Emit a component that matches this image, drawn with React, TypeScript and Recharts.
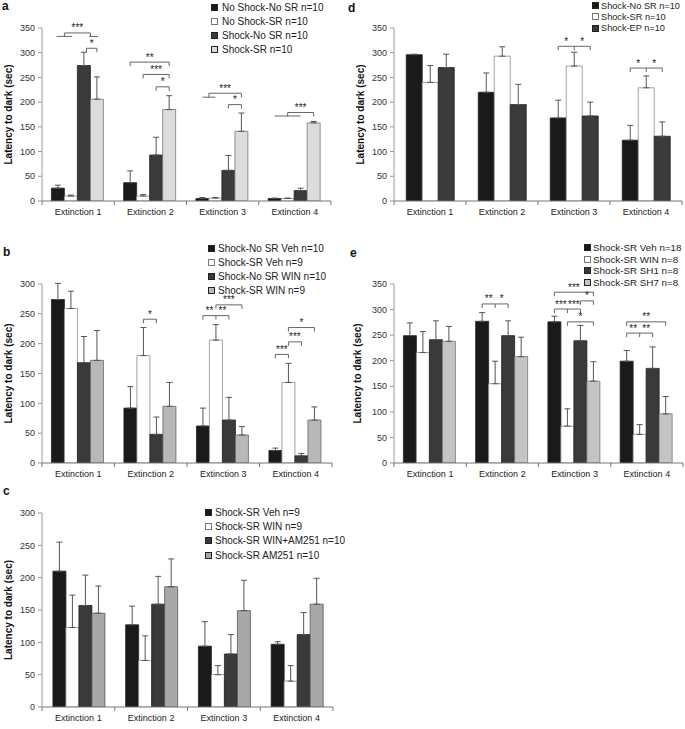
import React from 'react';
import { BarChart, Bar, XAxis, YAxis, ErrorBar, Legend, LabelList } from 'recharts';

const FONT = '"Liberation Sans", Arial, Helvetica, sans-serif';

const categories = ['Extinction 1', 'Extinction 2', 'Extinction 3', 'Extinction 4'];
const ticks350 = [0, 50, 100, 150, 200, 250, 300, 350];
const ticks300 = [0, 50, 100, 150, 200, 250, 300];

// ---- Panel a ----
const aNames = ['No Shock-No SR n=10', 'No Shock-SR n=10', 'Shock-No SR n=10', 'Shock-SR n=10'];
const aMeans = [
  [26, 37, 5, 5],
  [10, 10, 6, 5],
  [274, 93, 62, 21],
  [206, 185, 141, 158],
];
const aErrors = [
  [6, 24, 2, 1],
  [2, 3, 1, 1],
  [27, 36, 30, 5],
  [45, 28, 37, 3],
];

// ---- Panel b ----
const bNames = ['Shock-No SR Veh n=10', 'Shock-SR Veh n=9', 'Shock-No SR WIN n=10', 'Shock-SR WIN n=9'];
const bMeans = [
  [274, 92, 62, 21],
  [259, 180, 206, 135],
  [168, 48, 72, 12],
  [172, 95, 47, 72],
];
const bErrors = [
  [27, 36, 30, 4],
  [29, 47, 26, 32],
  [44, 29, 38, 4],
  [50, 40, 14, 22],
];

// ---- Panel c ----
const cNames = ['Shock-SR Veh n=9', 'Shock-SR WIN n=9', 'Shock-SR WIN+AM251 n=10', 'Shock-SR AM251 n=10'];
const cMeans = [
  [210, 127, 94, 97],
  [123, 72, 50, 40],
  [157, 159, 82, 112],
  [145, 186, 149, 159],
];
const cErrors = [
  [45, 29, 38, 4],
  [50, 38, 14, 24],
  [47, 43, 30, 34],
  [42, 43, 47, 40],
];

// ---- Panel d ----
const dNames = ['Shock-No SR n=10', 'Shock-SR n=10', 'Shock-EP n=10'];
const dMeans = [
  [296, 220, 168, 123],
  [240, 293, 273, 229],
  [270, 195, 172, 131],
];
const dErrors = [
  [1, 39, 36, 30],
  [34, 19, 28, 24],
  [27, 41, 28, 29],
];

// ---- Panel e ----
const eNames = ['Shock-SR Veh n=18', 'Shock-SR WIN n=8', 'Shock-SR SH1 n=8', 'Shock-SR SH7 n=8'];
const eMeans = [
  [249, 277, 276, 199],
  [216, 155, 72, 56],
  [241, 249, 239, 185],
  [238, 208, 160, 96],
];
const eErrors = [
  [25, 17, 11, 21],
  [41, 44, 34, 19],
  [37, 29, 30, 42],
  [29, 38, 38, 34],
];

// Significance brackets: cat index, from/to in bar units (k+0.5 = centre of bar k), y = data level
type Mark = { cat: number; from: number; to: number; y: number; labels?: string[]; mid?: number; plain?: boolean };

const aMarks: Mark[] = [
  { cat: 0, from: 0.4, to: 1.6, y: 333, plain: true },
  { cat: 0, from: 2.9, to: 3.6, y: 333, plain: true },
  { cat: 0, from: 1.0, to: 3.0, y: 340, labels: ['***'] },
  { cat: 0, from: 2.7, to: 3.5, y: 309, labels: ['*'] },
  { cat: 1, from: 0.5, to: 3.5, y: 281, labels: ['**'] },
  { cat: 1, from: 1.5, to: 3.5, y: 256, labels: ['***'] },
  { cat: 1, from: 2.5, to: 3.5, y: 231, labels: ['*'] },
  { cat: 2, from: 0.5, to: 1.5, y: 210, plain: true },
  { cat: 2, from: 1.0, to: 3.5, y: 218, labels: ['***'] },
  { cat: 2, from: 2.5, to: 3.5, y: 195, labels: ['*'] },
  { cat: 3, from: 0.5, to: 2.5, y: 172, plain: true },
  { cat: 3, from: 1.5, to: 3.5, y: 179, labels: ['***'] },
];
const bMarks: Mark[] = [
  { cat: 1, from: 1.5, to: 2.5, y: 241, labels: ['*'] },
  { cat: 2, from: 0.5, to: 2.5, mid: 1.5, y: 247, labels: ['**', '**'] },
  { cat: 2, from: 1.5, to: 3.5, y: 265, labels: ['***'] },
  { cat: 3, from: 0.5, to: 1.5, y: 182, labels: ['***'] },
  { cat: 3, from: 1.5, to: 2.5, y: 203, labels: ['***'] },
  { cat: 3, from: 1.5, to: 3.5, y: 227, labels: ['*'] },
];
const cMarks: Mark[] = [];
const dMarks: Mark[] = [
  { cat: 2, from: 0.5, to: 2.5, mid: 1.5, y: 313, labels: ['*', '*'] },
  { cat: 3, from: 0.5, to: 2.5, mid: 1.5, y: 269, labels: ['*', '*'] },
];
const eMarks: Mark[] = [
  { cat: 1, from: 0.5, to: 2.5, mid: 1.5, y: 311, labels: ['**', '*'] },
  { cat: 2, from: 0.5, to: 3.5, y: 334, labels: ['***'] },
  { cat: 2, from: 2.5, to: 3.5, y: 317, labels: ['*'] },
  { cat: 2, from: 0.5, to: 2.5, mid: 1.5, y: 301, labels: ['***', '***'] },
  { cat: 2, from: 1.5, to: 3.5, y: 276, labels: ['*'] },
  { cat: 3, from: 0.5, to: 3.5, y: 276, labels: ['**'] },
  { cat: 3, from: 0.5, to: 2.5, mid: 1.5, y: 254, labels: ['**', '**'] },
];

function buildRows(means: number[][], errors: number[][]) {
  return categories.map((name, c) => {
    const row: any = { name };
    means.forEach((m, s) => {
      row['s' + s] = m[c];
      row['e' + s] = [0, errors[s][c]];
    });
    return row;
  });
}

const makeMarkRenderer = (marks: Mark[], n: number) => (props: any) => {
  const vb = props.viewBox || props;
  const x = Number(vb.x), y = Number(vb.y), w = Number(vb.width), h = Number(vb.height);
  const v = Number(props.value);
  const idx = props.index;
  if (!isFinite(x) || !isFinite(y) || !v || !h) return null;
  const base = y + h;
  const ppu = h / v;
  const x0 = x - (n - 1) * w;
  const px = (u: number) => x0 + u * w;
  const py = (d: number) => base - d * ppu;
  const mine = marks.filter((m) => m.cat === idx);
  if (!mine.length) return null;
  return (
    <g>
      {mine.map((m, k) => {
        const yy = py(m.y);
        const x1 = px(m.from);
        const x2 = px(m.to);
        const st = { stroke: '#666', strokeWidth: 1 };
        const labelEls: any[] = [];
        if (m.labels) {
          if (m.mid != null && m.labels.length === 2) {
            labelEls.push({ t: m.labels[0], cx: px((m.from + m.mid) / 2) });
            labelEls.push({ t: m.labels[1], cx: px((m.mid + m.to) / 2) });
          } else {
            labelEls.push({ t: m.labels[0], cx: px((m.from + m.to) / 2) });
          }
        }
        return (
          <g key={k}>
            <line x1={x1} x2={x2} y1={yy} y2={yy} {...st} />
            {!m.plain && <line x1={x1} x2={x1} y1={yy} y2={yy + 4} {...st} />}
            {!m.plain && <line x1={x2} x2={x2} y1={yy} y2={yy + 4} {...st} />}
            {!m.plain && m.mid != null && <line x1={px(m.mid)} x2={px(m.mid)} y1={yy} y2={yy + 4} {...st} />}
            {labelEls.map((l, j) => (
              <text key={j} x={l.cx} y={yy - 1.5} textAnchor="middle" fontSize={10} fill="#222" fontFamily={FONT}>
                {l.t}
              </text>
            ))}
          </g>
        );
      })}
    </g>
  );
};

const CatTick = (p: any) => {
  const { x, y, payload, index } = p;
  const count = p.visibleTicksCount || categories.length;
  let off = payload && typeof payload.offset === 'number' && payload.offset > 0 ? payload.offset : 0;
  if (!off && p.width) off = p.width / (2 * count);
  const axisY = y - 8;
  return (
    <g>
      {off > 0 && <line x1={x - off} x2={x - off} y1={axisY} y2={axisY + 4} stroke="#777" />}
      {off > 0 && index === count - 1 && <line x1={x + off} x2={x + off} y1={axisY} y2={axisY + 4} stroke="#777" />}
      <text x={x} y={y} dy="0.71em" textAnchor="middle" fontSize={9} fill="#222" fontFamily={FONT}>
        {payload.value}
      </text>
    </g>
  );
};

type Cfg = {
  left: number; top: number; width: number; height: number;
  margin: any; yWidth: number; yMax: number; yTicks: number[];
  names: string[]; means: number[][]; errors: number[][];
  fills: string[]; strokes: string[]; marks: Mark[];
  gap: string; yLabelX: number;
  legend: { left: number; top: number; rowH: number; textGap: number; fontSize: number };
};

function Panel({ cfg }: { cfg: Cfg }) {
  const rows = buildRows(cfg.means, cfg.errors);
  const n = cfg.names.length;
  const renderMarks = makeMarkRenderer(cfg.marks, n);
  const renderLegend = () => (
    <div style={{ fontFamily: FONT, fontSize: cfg.legend.fontSize, color: '#222' }}>
      {cfg.names.map((nm, i) => (
        <div key={i} style={{ height: cfg.legend.rowH, display: 'flex', alignItems: 'center', whiteSpace: 'nowrap' }}>
          <span
            style={{
              display: 'inline-block', width: 5, height: 5, background: cfg.fills[i],
              border: '1px solid ' + (i === 1 ? '#777' : '#222'), marginRight: cfg.legend.textGap,
            }}
          />
          <span>{nm}</span>
        </div>
      ))}
    </div>
  );
  const renderYLabel = (props: any) => {
    const vb = props.viewBox || {};
    const cx = (Number(vb.x) || 0) + cfg.yLabelX;
    const cy = (Number(vb.y) || 0) + (Number(vb.height) || 0) / 2;
    return (
      <text x={cx} y={cy} transform={`rotate(-90 ${cx} ${cy})`} textAnchor="middle" dominantBaseline="central"
        fontSize={10} fontWeight="bold" fill="#111" fontFamily={FONT}>
        Latency to dark (sec)
      </text>
    );
  };
  return (
    <div style={{ position: 'absolute', left: cfg.left, top: cfg.top, width: cfg.width, height: cfg.height, fontFamily: FONT }}>
      <BarChart width={cfg.width} height={cfg.height} data={rows} margin={cfg.margin} barGap={0} barCategoryGap={cfg.gap}>
        <XAxis dataKey="name" height={22} tickSize={4} tickMargin={4} tickLine={false}
          axisLine={{ stroke: '#777' }} tick={<CatTick />} interval={0} />
        <YAxis width={cfg.yWidth} domain={[0, cfg.yMax]} ticks={cfg.yTicks} interval={0} allowDataOverflow
          tickSize={4} tickMargin={3} axisLine={{ stroke: '#999' }} tickLine={{ stroke: '#999' }}
          tick={{ fontSize: 9, fill: '#333', fontFamily: FONT }} label={{ content: renderYLabel }} />
        {cfg.names.map((nm, i) => (
          <Bar key={i} dataKey={'s' + i} name={nm} fill={cfg.fills[i]} stroke={cfg.strokes[i]} strokeWidth={0.8}
            isAnimationActive={false}>
            <ErrorBar dataKey={'e' + i} width={3} stroke="#555" strokeWidth={1} direction="y" />
            {i === n - 1 && <LabelList dataKey={'s' + i} content={renderMarks} />}
          </Bar>
        ))}
        <Legend layout="vertical" align="center" verticalAlign="middle" content={renderLegend}
          wrapperStyle={{ left: cfg.legend.left, top: cfg.legend.top, width: 'auto', height: 'auto' }} />
      </BarChart>
    </div>
  );
}

const darkStroke = '#222';
const panels: Cfg[] = [
  {
    left: 0, top: 0, width: 340, height: 223, margin: { top: 28, right: 9, bottom: 0, left: 0 },
    yWidth: 42, yMax: 350, yTicks: ticks350, names: aNames, means: aMeans, errors: aErrors,
    fills: ['#1a1a1a', '#ffffff', '#3a3a3a', '#dcdcdc'], strokes: [darkStroke, '#8a8a8a', darkStroke, '#777'],
    marks: aMarks, gap: '13%', yLabelX: 8.5, legend: { left: 211, top: 0, rowH: 14, textGap: 4, fontSize: 10 },
  },
  {
    left: 0, top: 240, width: 340, height: 245, margin: { top: 44, right: 8, bottom: 0, left: 0 },
    yWidth: 42, yMax: 300, yTicks: ticks300, names: bNames, means: bMeans, errors: bErrors,
    fills: ['#1a1a1a', '#ffffff', '#3a3a3a', '#b8b8b8'], strokes: [darkStroke, '#8a8a8a', darkStroke, '#666'],
    marks: bMarks, gap: '13%', yLabelX: 8.5, legend: { left: 208, top: 1, rowH: 14.2, textGap: 3, fontSize: 10 },
  },
  {
    left: 0, top: 480, width: 340, height: 249, margin: { top: 33, right: 7, bottom: 0, left: 0 },
    yWidth: 42, yMax: 300, yTicks: ticks300, names: cNames, means: cMeans, errors: cErrors,
    fills: ['#1a1a1a', '#ffffff', '#3a3a3a', '#a8a8a8'], strokes: [darkStroke, '#8a8a8a', darkStroke, '#555'],
    marks: cMarks, gap: '15%', yLabelX: 8.5, legend: { left: 205, top: 25, rowH: 14.3, textGap: 3, fontSize: 10 },
  },
  {
    left: 345, top: 0, width: 340, height: 223, margin: { top: 28, right: 3, bottom: 0, left: 0 },
    yWidth: 49, yMax: 350, yTicks: ticks350, names: dNames, means: dMeans, errors: dErrors,
    fills: ['#1a1a1a', '#ffffff', '#3a3a3a'], strokes: [darkStroke, '#8a8a8a', darkStroke],
    marks: dMarks, gap: '17%', yLabelX: 15, legend: { left: 247, top: 0, rowH: 11.3, textGap: 2, fontSize: 9.2 },
  },
  {
    left: 345, top: 240, width: 340, height: 245, margin: { top: 44, right: 2, bottom: 0, left: 0 },
    yWidth: 49, yMax: 350, yTicks: ticks350, names: eNames, means: eMeans, errors: eErrors,
    fills: ['#1a1a1a', '#ffffff', '#3a3a3a', '#c4c4c4'], strokes: [darkStroke, '#8a8a8a', darkStroke, '#777'],
    marks: eMarks, gap: '13%', yLabelX: 12.5, legend: { left: 239, top: 2, rowH: 11.6, textGap: 2, fontSize: 9.8 },
  },
];

const letters = [
  { t: 'a', x: 2, y: 10 },
  { t: 'b', x: 3, y: 256 },
  { t: 'c', x: 3, y: 495 },
  { t: 'd', x: 348, y: 12 },
  { t: 'e', x: 350, y: 257 },
];

export default function App() {
  return (
    <div style={{ position: 'absolute', left: 0, top: 0, width: 685, height: 729, background: '#fff', fontFamily: FONT, overflow: 'hidden' }}>
      {panels.map((p, i) => (
        <Panel key={i} cfg={p} />
      ))}
      <svg width={685} height={729} style={{ position: 'absolute', left: 0, top: 0, pointerEvents: 'none' }}>
        {letters.map((l) => (
          <text key={l.t} x={l.x} y={l.y} fontSize={12} fontWeight="bold" fill="#111" fontFamily={FONT}>
            {l.t}
          </text>
        ))}
      </svg>
    </div>
  );
}
